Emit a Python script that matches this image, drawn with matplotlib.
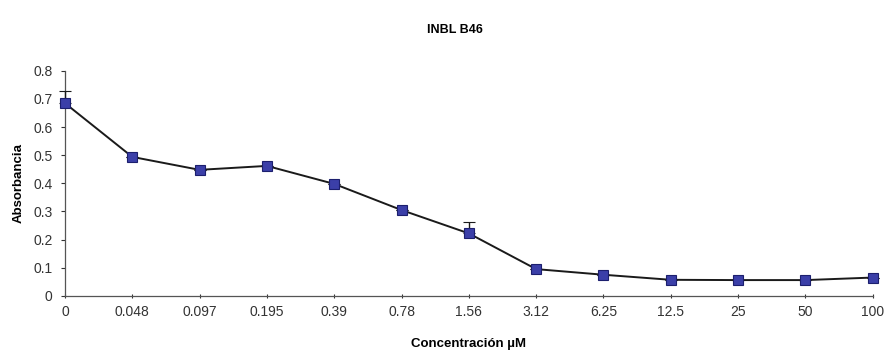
import matplotlib.pyplot as plt

plt.rcParams['font.family'] = ['Liberation Sans', 'DejaVu Sans']

conc = ["0", "0.048", "0.097", "0.195", "0.39", "0.78", "1.56",
        "3.12", "6.25", "12.5", "25", "50", "100"]
absorb = [0.685, 0.494, 0.448, 0.462, 0.398, 0.305, 0.222,
          0.095, 0.075, 0.057, 0.056, 0.056, 0.065]
err = [0.045, 0, 0, 0, 0, 0, 0.04, 0, 0, 0, 0, 0, 0]

fig = plt.figure(figsize=(8.96, 3.56), dpi=100)
ax = fig.add_axes([0.0725, 0.169, 0.9015, 0.632])

x = list(range(len(conc)))
ax.errorbar(x, absorb, yerr=[[0] * len(err), err], color='#1a1a1a', lw=1.4,
            marker='s', ms=7, mfc='#3b3fa8', mec='#1c1f6e', mew=0.8,
            capsize=4, elinewidth=1, capthick=1.2, clip_on=False, zorder=3)

ax.set_xlim(0, len(conc) - 1)
ax.set_ylim(0, 0.8)
ax.set_xticks(x)
ax.set_xticklabels(conc)
ax.set_yticks([0, 0.1, 0.2, 0.3, 0.4, 0.5, 0.6, 0.7, 0.8])
ax.set_yticklabels(["0", "0.1", "0.2", "0.3", "0.4", "0.5", "0.6", "0.7", "0.8"])
ax.tick_params(axis='both', labelsize=10, colors='#333333', length=3, width=0.8)
ax.tick_params(axis='x', direction='inout', pad=5)
ax.tick_params(axis='y', direction='out', pad=6)

for s in ['top', 'right']:
    ax.spines[s].set_visible(False)
for s in ['left', 'bottom']:
    ax.spines[s].set_color('#555555')
    ax.spines[s].set_linewidth(0.9)

ax.set_xlabel("Concentración µM", fontsize=9.5, fontweight='bold', labelpad=14)
ax.set_ylabel("Absorbancia", fontsize=9.5, fontweight='bold', labelpad=6)
fig.text(0.508, 0.915, "INBL B46", ha='center', va='center',
         fontsize=9, fontweight='bold')

fig.savefig("out.png", dpi=100)
